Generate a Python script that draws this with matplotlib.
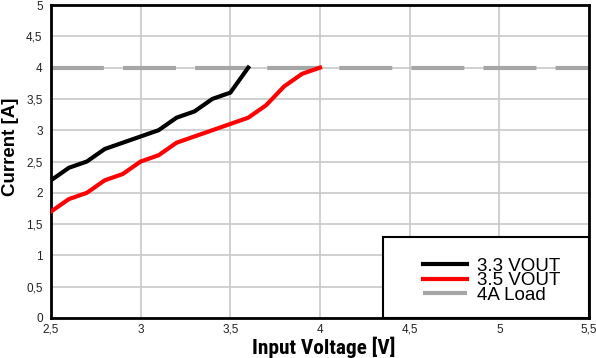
import matplotlib.pyplot as plt
from matplotlib import font_manager as fm
from matplotlib.patches import Rectangle
from matplotlib.ticker import FuncFormatter

# Data
vin_33 = [2.5, 2.6, 2.7, 2.8, 2.9, 3.0, 3.1, 3.2, 3.3, 3.4, 3.5, 3.6]
cur_33 = [2.2, 2.4, 2.5, 2.7, 2.8, 2.9, 3.0, 3.2, 3.3, 3.5, 3.6, 4.0]
vin_35 = [2.5, 2.6, 2.7, 2.8, 2.9, 3.0, 3.1, 3.2, 3.3, 3.4, 3.5, 3.6, 3.7, 3.8, 3.9, 4.0]
cur_35 = [1.7, 1.9, 2.0, 2.2, 2.3, 2.5, 2.6, 2.8, 2.9, 3.0, 3.1, 3.2, 3.4, 3.7, 3.9, 4.0]
load_x = [2.5, 5.5]
load_y = [4.0, 4.0]
labels = ['3.3 VOUT', '3.5 VOUT', '4A Load']
xticks = [2.5, 3, 3.5, 4, 4.5, 5, 5.5]
yticks = [0, 0.5, 1, 1.5, 2, 2.5, 3, 3.5, 4, 4.5, 5]

plt.rcParams['font.family'] = ['Liberation Sans', 'DejaVu Sans']

# look for a condensed bold face for the x label
narrow = fm.FontProperties(family='Liberation Sans', weight='bold', size=12.5)
for fam, st in [('Liberation Sans Narrow', 'normal'), ('Roboto Condensed', 'normal'),
                ('Noto Sans', 'condensed'), ('DejaVu Sans', 'condensed'),
                ('Open Sans', 'condensed'), ('Roboto', 'condensed')]:
    fp = fm.FontProperties(family=fam, weight='bold', stretch=st, size=15.4)
    try:
        path = fm.findfont(fp, fallback_to_default=False)
    except Exception:
        continue
    if 'ondensed' in path or 'arrow' in path:
        narrow = fp
        break

fig = plt.figure(figsize=(5.96, 3.58), dpi=100)
ax = fig.add_axes([51/596, 40/358, 538/596, 313/358])

ax.plot(vin_33, cur_33, color='black', lw=3, label=labels[0], zorder=3)
ax.plot(vin_35, cur_35, color='#ff0000', lw=3, label=labels[1], zorder=3)
ax.plot(load_x, load_y, color='#a6a6a6', lw=3, dashes=(12.7, 4.6), label=labels[2], zorder=2)

ax.set_xlim(2.5, 5.5)
ax.set_ylim(0, 5)
ax.set_xticks(xticks)
ax.set_yticks(yticks)
fmt = FuncFormatter(lambda v, p: ('%g' % v).replace('.', ','))
ax.xaxis.set_major_formatter(fmt)
ax.yaxis.set_major_formatter(fmt)
ax.tick_params(length=0, labelsize=8.5, colors='#222222')
ax.tick_params(axis='y', pad=6)
ax.tick_params(axis='x', pad=4)
ax.grid(color='#c8c8c8', lw=1.2)
ax.set_axisbelow(True)

for s in ax.spines.values():
    s.set_linewidth(2)

ax.set_xlabel('Input Voltage [V]', fontproperties=narrow)
ax.xaxis.set_label_coords(0.507, -0.093)
ax.xaxis.label.set_va('center')
ax.set_ylabel('Current [A]', fontsize=13.5, fontweight='bold')
ax.yaxis.set_label_coords(-0.0745, 0.546)
ax.yaxis.label.set_va('center')

# legend box, drawn in the axes so the legend sits on top of it
box = Rectangle((383/596, 40/358), 206/596, 81/358, transform=fig.transFigure,
                facecolor='white', edgecolor='black', lw=1.5, zorder=4, clip_on=False)
ax.add_patch(box)
leg = ax.legend(loc='center', bbox_to_anchor=(492/596, 77.5/358),
                bbox_transform=fig.transFigure, fontsize=13.5, frameon=False,
                labelspacing=-0.14, handlelength=2.35, handletextpad=0.53,
                borderpad=0, borderaxespad=0)
leg.set_zorder(5)

fig.savefig('out.png', dpi=100)
